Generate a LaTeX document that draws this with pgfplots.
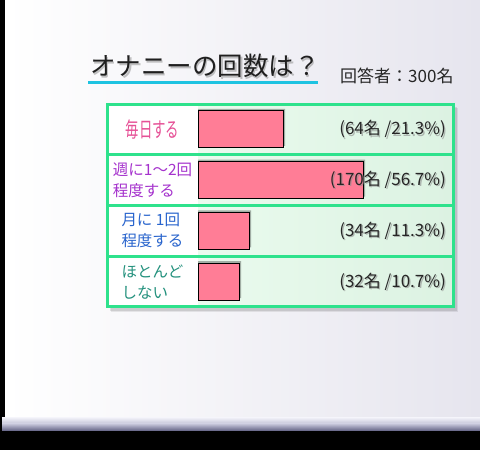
\documentclass[border=0pt]{standalone}
\usepackage{fontspec}
\newfontfamily\jp{Noto Sans CJK JP}
\newfontfamily\jpnarrow[FakeStretch=0.64]{Noto Sans CJK JP}
\usepackage{pgfplots}
\pgfplotsset{compat=1.18}

\definecolor{board}{RGB}{230,229,238}
\definecolor{tgreen}{RGB}{46,226,140}
\definecolor{cellL}{RGB}{234,251,238}
\definecolor{cellR}{RGB}{220,242,226}
\definecolor{barpink}{RGB}{255,125,150}
\definecolor{uline}{RGB}{30,195,225}
\definecolor{cpink}{RGB}{230,80,150}
\definecolor{cpurple}{RGB}{165,50,205}
\definecolor{cblue}{RGB}{40,100,205}
\definecolor{cteal}{RGB}{35,145,125}

\begin{document}
\begin{tikzpicture}
\useasboundingbox (0pt,0pt) rectangle (480pt,450pt);
% board
\fill[black] (0pt,0pt) rectangle (480pt,450pt);
\shade[left color=white, right color=board] (5pt,19pt) rectangle (480pt,450pt);
\shade[top color={rgb,255:red,238;green,238;blue,246}, bottom color={rgb,255:red,195;green,195;blue,215}] (2pt,26pt) rectangle (480pt,32pt);
\shade[top color={rgb,255:red,195;green,195;blue,215}, bottom color={rgb,255:red,95;green,95;blue,130}] (2pt,19pt) rectangle (480pt,26pt);

% title
\node[anchor=west, inner sep=0pt, text=black!40, opacity=0.6, font=\jp\fontsize{25.5}{27}\selectfont] at (91.5pt,382.5pt) {オナニーの回数は？};
\node[anchor=west, inner sep=0pt, text=black!88, font=\jp\fontsize{25.5}{27}\selectfont] at (90pt,384pt) {オナニーの回数は？};
\draw[uline, line width=3pt] (88pt,367pt) -- (318pt,367pt);
\node[anchor=west, inner sep=0pt, text=black!85, font=\jp\fontsize{17}{19}\selectfont] at (340pt,374pt) {回答者：300名};

% table background and shadow
\fill[black, opacity=0.10] (110pt,139pt) rectangle (457pt,343pt);
\fill[black, opacity=0.08] (111pt,138pt) rectangle (458pt,342pt);
\fill[white] (107pt,143pt) rectangle (198pt,346pt);
\shade[left color=cellL, right color=cellR] (198pt,143pt) rectangle (453pt,346pt);

\begin{axis}[
    at={(107pt,143pt)}, anchor=south west,
    scale only axis, width=346pt, height=203pt,
    xmin=-91, xmax=255, ymin=0.5, ymax=4.5,
    y dir=reverse, clip=false,
    axis line style={draw=tgreen, line width=3pt},
    xtick=\empty, minor xtick={-1}, xminorgrids,
    minor ytick={1.5,2.5,3.5}, yminorgrids,
    minor grid style={tgreen, line width=3pt},
    ytick={1,2,3,4},
    yticklabels={
        {\textcolor{cpink}{\jpnarrow\fontsize{21}{22}\selectfont 毎日する}},
        {\textcolor{cpurple}{週に1〜2回}\\\textcolor{cpurple}{程度する}},
        {\textcolor{cblue}{月に 1回}\\\textcolor{cblue}{程度する}},
        {\textcolor{cteal}{ほとんど}\\\textcolor{cteal}{しない}}},
    major tick length=0pt, minor tick length=0pt,
    yticklabel style={anchor=center, align=left, xshift=45.5pt,
        font=\jp\fontsize{15.5}{21}\selectfont},
]
% bar shadow, then bars
\addplot[xbar, bar shift=2pt, bar width=37pt, fill=black, fill opacity=0.3, draw=none]
    coordinates {(87,1) (167,2) (53,3) (43,4)};
\addplot[xbar, bar shift=0pt, bar width=37pt, fill=barpink, draw=black, line width=0.8pt]
    coordinates {(85,1) (165,2) (51,3) (41,4)};
% value labels (shadow, then text)
\addplot[draw=none, mark=none, nodes near coords, point meta=explicit symbolic,
    every node near coord/.append style={anchor=east, inner sep=0pt, xshift=1.3pt, yshift=-1.3pt,
        text=black!45, opacity=0.6, font=\jp\fontsize{17}{19}\selectfont}]
    coordinates {(248,1) [(64名 /21.3\%)] (248,2) [(170名 /56.7\%)]
                 (248,3) [(34名 /11.3\%)] (248,4) [(32名 /10.7\%)]};
\addplot[draw=none, mark=none, nodes near coords, point meta=explicit symbolic,
    every node near coord/.append style={anchor=east, inner sep=0pt,
        text=black!85, font=\jp\fontsize{17}{19}\selectfont}]
    coordinates {(248,1) [(64名 /21.3\%)] (248,2) [(170名 /56.7\%)]
                 (248,3) [(34名 /11.3\%)] (248,4) [(32名 /10.7\%)]};
\end{axis}
\end{tikzpicture}
\end{document}
